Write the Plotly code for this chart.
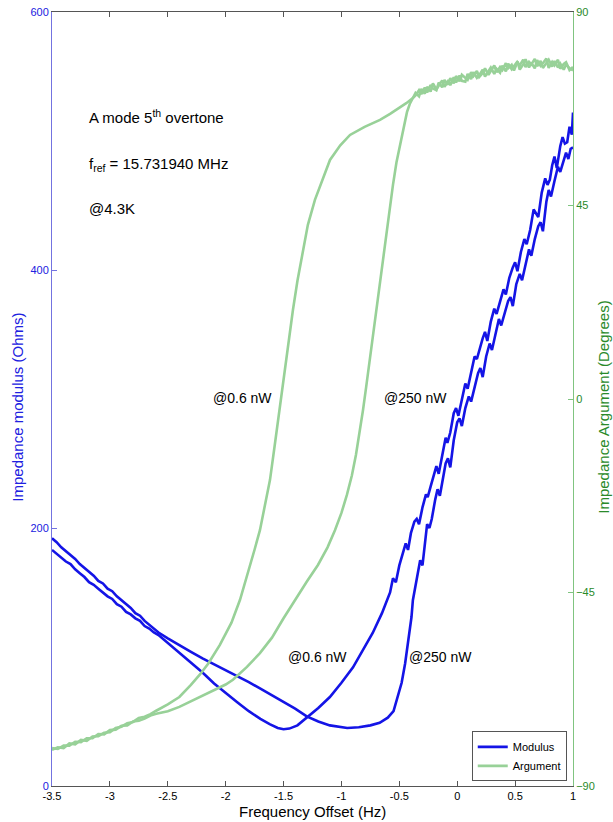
import plotly.graph_objects as go

# ---------------- data ----------------
# Impedance modulus (Ohms) vs frequency offset (Hz)
mod_06_x = [-3.50,-3.46,-3.42,-3.38,-3.34,-3.30,-3.26,-3.22,-3.18,-3.14,-3.10,-3.06,-3.02,-2.98,-2.94,-2.90,
            -2.86,-2.82,-2.78,-2.74,-2.70,-2.66,-2.62,-2.58,-2.50,-2.40,-2.30,-2.20,-2.10,-2.00,-1.90,-1.80,
            -1.70,-1.62,-1.55,-1.50,-1.45,-1.38,-1.29,-1.20,-1.10,-1.00,-0.90,-0.80,-0.73,-0.65,-0.61,
            -0.58,-0.555,-0.53,-0.50,-0.47,-0.445,-0.425,-0.40,-0.37,-0.35,-0.33,-0.30,-0.27,-0.255,-0.23,
            -0.20,-0.18,-0.16,-0.13,-0.10,-0.085,-0.06,-0.03,-0.01,0.01,0.04,0.07,0.09,0.12,0.15,0.17,0.19,
            0.22,0.24,0.26,0.29,0.32,0.34,0.37,0.40,0.42,0.45,0.48,0.50,0.52,0.55,0.58,0.60,0.63,0.66,0.68,
            0.70,0.73,0.76,0.78,0.80,0.82,0.84,0.86,0.89,0.91,0.93,0.95,0.97,0.99,1.00]
mod_06_y = [183,180,177,174,172,168,165,162,158,156,153,150,147,145,141,139,
            135,133,130,128,124,122,119,117,111,103.5,96,88,79.5,72,65,58,
            52,48,45,44,44.5,47,53.5,60.5,69,80,92,108,118.6,134,144,
            150,161,158,171,180,188,183,196,205,207,203,216,226,224,232,
            241,248,242,257,270,266,274,289,293,287,300,312,308,320,333,331,338,
            347,352,345,360,370,366,375,385,381,394,402,406,399,414,424,420,431,447,444,
            441,460,471,466,470,481,488,479,496,503,498,499,511,505,522]

mod_250_x = [-3.50,-3.46,-3.42,-3.38,-3.34,-3.30,-3.26,-3.22,-3.18,-3.14,-3.10,-3.06,-3.02,-2.98,-2.94,-2.90,
             -2.86,-2.82,-2.78,-2.74,-2.70,-2.66,-2.62,-2.58,-2.50,-2.40,-2.30,-2.20,-2.10,-2.00,-1.90,-1.80,
             -1.70,-1.60,-1.50,-1.40,-1.30,-1.20,-1.10,-1.00,-0.95,-0.85,-0.75,-0.67,-0.60,-0.55,-0.52,-0.48,
             -0.45,-0.43,-0.41,-0.395,-0.383,-0.36,-0.34,-0.32,-0.30,-0.28,-0.26,-0.24,-0.22,-0.19,-0.17,
             -0.15,-0.12,-0.10,-0.08,-0.06,-0.03,0.00,0.02,0.04,0.07,0.10,0.12,0.15,0.18,0.20,0.22,0.25,
             0.28,0.30,0.33,0.36,0.38,0.41,0.44,0.46,0.48,0.51,0.54,0.56,0.59,0.62,0.64,0.67,0.70,0.72,
             0.74,0.77,0.79,0.81,0.84,0.87,0.89,0.92,0.94,0.96,0.98,1.00]
mod_250_y = [192,189,185,182,179,176,172,169,166,163,159,157,153,151,147,144,
             141,138,134,132,128,125,122,119,114.5,109,104,99,94.5,90,85,80.5,
             75.5,70.5,65.5,60,54,50,47,45.5,45,45.5,47,49,53,58,66.7,80,
             95,107,118.6,131,144,155,166,175,171,188,203,200,207,222,230,
             225,241,250,254,247,268,282,285,279,293,302,298,310,320,324,317,333,
             343,338,350,362,357,366,376,379,372,389,397,392,405,416,411,424,434,437,
             430,453,462,457,469,480,476,485,491,486,494,495]

# Impedance argument (degrees) vs frequency offset (Hz)
arg_06_x = [-3.50,-3.45,-3.40,-3.35,-3.30,-3.25,-3.20,-3.15,-3.10,-3.05,-3.00,-2.95,-2.90,-2.85,-2.80,-2.75,
            -2.70,-2.65,-2.60,-2.50,-2.40,-2.30,-2.22,-2.15,-2.05,-1.95,-1.876,-1.80,-1.75,-1.704,-1.65,
            -1.617,-1.58,-1.548,-1.52,-1.488,-1.45,-1.419,-1.38,-1.341,-1.29,-1.229,-1.16,-1.099,-1.01,
            -0.926,-0.80,-0.667,-0.58,-0.495,-0.44,-0.383,
            -0.36,-0.33,-0.31,-0.28,-0.26,-0.23,-0.21,-0.18,-0.16,-0.13,-0.11,-0.08,-0.06,-0.03,-0.01,
            0.02,0.04,0.07,0.09,0.12,0.14,0.17,0.19,0.22,0.24,0.27,0.29,0.32,0.34,0.37,0.39,0.42,0.44,
            0.47,0.49,0.52,0.54,0.57,0.59,0.62,0.64,0.67,0.69,0.72,0.74,0.77,0.79,0.82,0.84,0.87,0.89,
            0.92,0.94,0.97,1.00]
arg_06_y = [-81.6,-81.0,-81.2,-80.1,-80.3,-79.3,-79.5,-78.5,-78.4,-77.6,-77.5,-76.5,-76.2,-75.4,-75.1,-74.2,
            -73.9,-73.3,-72.5,-71.0,-69.3,-66.5,-64.0,-61.5,-57.2,-52.0,-46.7,-40.0,-35.0,-30.5,-23.0,
            -18.8,-11.5,-4.9,1.0,6.7,14.5,20.7,27.5,33.5,40.5,46.3,51.5,55.6,59.0,
            61.4,63.3,64.9,66.3,67.7,68.8,70.0,
            71.2,70.4,72.1,71.0,72.6,71.5,73.4,72.0,72.8,74.1,72.6,73.9,73.0,74.8,73.6,
            75.2,74.0,73.8,75.6,74.4,76.0,74.7,75.3,76.6,75.0,76.2,77.1,75.6,76.8,75.9,77.5,76.2,78.0,
            76.7,77.4,78.5,76.6,77.8,79.0,77.1,78.2,76.9,78.8,77.5,78.1,79.2,77.0,78.4,77.6,78.9,76.8,
            77.9,78.3,76.5,77.2]

arg_250_x = [-3.50,-3.45,-3.40,-3.35,-3.30,-3.25,-3.20,-3.15,-3.10,-3.05,-3.00,-2.95,-2.90,-2.85,-2.80,-2.75,
             -2.70,-2.65,-2.60,-2.50,-2.40,-2.30,-2.20,-2.10,-2.00,-1.937,-1.816,-1.704,-1.60,-1.50,-1.402,
             -1.30,-1.203,-1.12,-1.056,-1.00,-0.953,-0.91,-0.875,-0.84,-0.814,-0.787,-0.762,-0.735,-0.711,
             -0.685,-0.659,-0.633,-0.607,-0.58,-0.555,-0.525,-0.495,-0.465,-0.434,-0.41,-0.383,
             -0.36,-0.33,-0.31,-0.28,-0.26,-0.23,-0.21,-0.18,-0.16,-0.13,-0.11,-0.08,-0.06,-0.03,-0.01,
             0.02,0.04,0.07,0.09,0.12,0.14,0.17,0.19,0.22,0.24,0.27,0.29,0.32,0.34,0.37,0.39,0.42,0.44,
             0.47,0.49,0.52,0.54,0.57,0.59,0.62,0.64,0.67,0.69,0.72,0.74,0.77,0.79,0.82,0.84,0.87,0.89,
             0.92,0.94,0.97,1.00]
arg_250_y = [-81.2,-81.4,-80.6,-80.6,-79.7,-79.8,-78.9,-78.9,-77.9,-78.0,-77.0,-76.9,-76.0,-75.9,-75.0,-74.8,
             -74.3,-73.6,-73.2,-72.6,-71.6,-70.3,-69.0,-67.7,-66.4,-65.3,-62.3,-59.1,-55.5,-51.0,-46.7,
             -42.5,-38.6,-34.5,-30.5,-26.5,-22.3,-17.8,-13.0,-7.5,-2.6,2.7,7.9,13.3,18.4,
             23.6,28.8,34.0,39.3,44.7,49.8,55.0,59.1,63.3,66.7,68.6,70.0,
             70.6,71.8,70.9,72.4,71.3,73.0,72.2,71.8,73.6,72.5,74.2,73.1,74.6,73.4,75.1,
             73.9,75.4,74.8,74.2,76.0,75.1,76.3,74.9,75.8,76.9,75.4,76.4,77.6,76.0,77.2,76.5,78.1,76.9,
             77.7,76.4,78.3,77.6,78.9,77.2,78.4,77.8,79.1,77.4,78.6,77.0,78.2,78.9,77.3,78.6,77.1,78.0,
             76.6,77.8,76.9,76.4]

x_tickvals = [-3.5,-3,-2.5,-2,-1.5,-1,-0.5,0,0.5,1]
x_ticktext = ["-3.5","-3","-2.5","-2","-1.5","-1","-0.5","0","0.5","1"]
y_tickvals = [0,200,400,600]
y2_tickvals = [-90,-45,0,45,90]

# text labels: (x, y-on-modulus-axis, text)
power_labels = [(-1.851, 301, "@0.6 nW"), (-0.361, 301, "@250 nW"),
                (-1.203, 100, "@0.6 nW"), (-0.141, 100, "@250 nW")]
info_labels = [(-3.2, 519, "A mode 5<sup>th</sup> overtone"),
               (-3.2, 482, "f<sub>ref</sub> = 15.731940 MHz"),
               (-3.2, 448, "@4.3K")]

# ---------------- figure ----------------
FONT = "Liberation Sans, Arial, sans-serif"
BLUE = "#1414e6"
GREEN_LINE = "#98d198"
GREEN_TXT = "#2a8a2a"
BLUE_TXT = "#2020e0"

fig = go.Figure()
fig.add_trace(go.Scatter(x=arg_06_x, y=arg_06_y, yaxis="y2", mode="lines", name="Argument",
                         line=dict(color=GREEN_LINE, width=2.6), showlegend=False))
fig.add_trace(go.Scatter(x=arg_250_x, y=arg_250_y, yaxis="y2", mode="lines", name="Argument",
                         line=dict(color=GREEN_LINE, width=2.6), showlegend=False))
fig.add_trace(go.Scatter(x=mod_06_x, y=mod_06_y, mode="lines", name="Modulus",
                         line=dict(color=BLUE, width=2.6), showlegend=True, legendrank=1))
fig.add_trace(go.Scatter(x=mod_250_x, y=mod_250_y, mode="lines", name="Modulus",
                         line=dict(color=BLUE, width=2.6), showlegend=False))
fig.add_trace(go.Scatter(x=[None], y=[None], mode="lines", name="Argument",
                         line=dict(color=GREEN_LINE, width=2.6), showlegend=True, legendrank=2))

annotations = []
for x, y, t in power_labels:
    annotations.append(dict(x=x, y=y, xref="x", yref="y", text=t, showarrow=False,
                            font=dict(family=FONT, size=14, color="black"),
                            xanchor="center", yanchor="middle"))
for x, y, t in info_labels:
    annotations.append(dict(x=x, y=y, xref="x", yref="y", text=t, showarrow=False,
                            font=dict(family=FONT, size=15, color="black"),
                            xanchor="left", yanchor="middle"))
# axis titles
annotations.append(dict(x=0.5, y=-0.0323, xref="paper", yref="paper", text="Frequency Offset (Hz)",
                        showarrow=False, font=dict(family=FONT, size=15, color="black"),
                        xanchor="center", yanchor="middle"))
annotations.append(dict(x=-0.0653, y=0.49, xref="paper", yref="paper", text="Impedance modulus (Ohms)",
                        showarrow=False, textangle=-90, font=dict(family=FONT, size=15, color=BLUE_TXT),
                        xanchor="center", yanchor="middle"))
annotations.append(dict(x=1.0595, y=0.49, xref="paper", yref="paper", text="Impedance Argument (Degrees)",
                        showarrow=False, textangle=-90, font=dict(family=FONT, size=15, color=GREEN_TXT),
                        xanchor="center", yanchor="middle"))

fig.update_layout(
    width=613, height=822,
    margin=dict(l=52, r=40, t=12, b=36),
    paper_bgcolor="white", plot_bgcolor="white",
    font=dict(family=FONT, size=11, color="black"),
    xaxis=dict(range=[-3.5, 1], tickvals=x_tickvals, ticktext=x_ticktext, automargin=False,
               ticks="inside", ticklen=5, tickcolor="#555", showline=True, linecolor="#555",
               linewidth=1, mirror="ticks", showgrid=False, zeroline=False,
               ticklabeloverflow="allow", tickfont=dict(size=11, color="black")),
    yaxis=dict(range=[0, 600], tickvals=y_tickvals, ticks="inside", ticklen=5, automargin=False,
               tickcolor="#7373e0", showline=True, linecolor="#7373e0", linewidth=1, showgrid=False,
               zeroline=False, ticklabeloverflow="allow", tickfont=dict(size=11, color=BLUE_TXT)),
    yaxis2=dict(range=[-90, 90], tickvals=y2_tickvals, overlaying="y", side="right", automargin=False,
                ticks="inside", ticklen=5, tickcolor="#80c480", showline=True, linecolor="#80c480",
                linewidth=1, showgrid=False, zeroline=False, ticklabeloverflow="allow",
                tickfont=dict(size=11, color=GREEN_TXT)),
    legend=dict(x=0.988, y=0.006, xanchor="right", yanchor="bottom", bgcolor="white",
                bordercolor="#555", borderwidth=1, font=dict(size=11, color="black"),
                tracegroupgap=0, itemwidth=30),
    annotations=annotations,
)

# remove the default page margin so the 613x822 figure fills the window exactly
fig.write_html("out.html", config={"displayModeBar": False},
               post_script="document.body.style.margin='0';document.body.style.overflow='hidden';")
